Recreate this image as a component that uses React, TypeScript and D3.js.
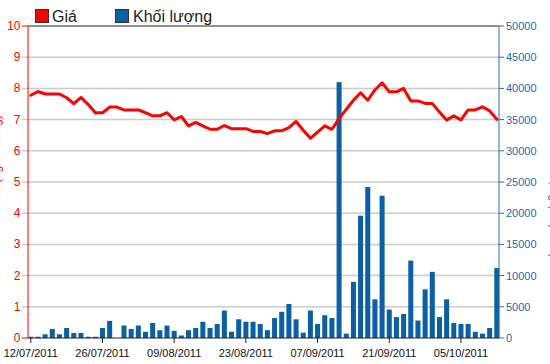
import React from "react";
import * as d3 from "d3";

const dates = [
  "12/07/2011","13/07/2011","14/07/2011","15/07/2011","18/07/2011","19/07/2011","20/07/2011","21/07/2011","22/07/2011","25/07/2011",
  "26/07/2011","27/07/2011","28/07/2011","29/07/2011","01/08/2011","02/08/2011","03/08/2011","04/08/2011","05/08/2011","08/08/2011",
  "09/08/2011","10/08/2011","11/08/2011","12/08/2011","15/08/2011","16/08/2011","17/08/2011","18/08/2011","19/08/2011","22/08/2011",
  "23/08/2011","24/08/2011","25/08/2011","26/08/2011","29/08/2011","30/08/2011","31/08/2011","01/09/2011","05/09/2011","06/09/2011",
  "07/09/2011","08/09/2011","09/09/2011","12/09/2011","13/09/2011","14/09/2011","15/09/2011","16/09/2011","19/09/2011","20/09/2011",
  "21/09/2011","22/09/2011","23/09/2011","26/09/2011","27/09/2011","28/09/2011","29/09/2011","30/09/2011","03/10/2011","04/10/2011",
  "05/10/2011","06/10/2011","07/10/2011","10/10/2011","11/10/2011","12/10/2011"
];

const prices = [
  7.78, 7.9, 7.82, 7.82, 7.82, 7.7, 7.51, 7.71, 7.49, 7.22,
  7.22, 7.4, 7.4, 7.31, 7.31, 7.31, 7.22, 7.12, 7.12, 7.22,
  6.99, 7.1, 6.8, 6.91, 6.8, 6.69, 6.69, 6.81, 6.71, 6.71,
  6.71, 6.62, 6.62, 6.55, 6.64, 6.64, 6.74, 6.94, 6.66, 6.4,
  6.6, 6.8, 6.69, 7.03, 7.33, 7.62, 7.86, 7.62, 7.95, 8.18,
  7.89, 7.89, 8.0, 7.6, 7.6, 7.52, 7.52, 7.24, 6.99, 7.12,
  6.99, 7.31, 7.31, 7.41, 7.28, 7.01
];

const volumes = [
  200, 200, 600, 1450, 600, 1600, 800, 800, 200, 200,
  1600, 2750, 0, 2000, 1450, 2000, 1000, 2400, 1250, 2000,
  1150, 400, 1250, 1600, 2600, 1600, 2250, 4400, 1000, 3000,
  2600, 2600, 2250, 1250, 3200, 4200, 5450, 3000, 850, 4400,
  2250, 3650, 3200, 41000, 700, 9000, 19600, 24200, 6200, 22800,
  4550, 3350, 3850, 12400, 2800, 7800, 10600, 3350, 6200, 2400,
  2250, 2250, 1000, 700, 1600, 11200
];

const priceTicks = [0, 1, 2, 3, 4, 5, 6, 7, 8, 9, 10];
const volumeTicks = [0, 5000, 10000, 15000, 20000, 25000, 30000, 35000, 40000, 45000, 50000];
const dateTickLabels = ["12/07/2011", "26/07/2011", "09/08/2011", "23/08/2011", "07/09/2011", "21/09/2011", "05/10/2011"];

const legendLabels = ["Giá", "Khối lượng"];

export default function App() {
  const W = 550, H = 364;
  const left = 28, right = 499, top = 26, bottom = 338;
  const red = "#ff0000";
  const blue = "#0b5fa5";
  const axisBlue = "#2a6ca4";
  const font = "'Liberation Sans', Arial, sans-serif";

  const x = d3.scaleBand<string>().domain(dates).range([27.2, 500.4]).paddingInner(0.3).paddingOuter(0.15);
  const yP = d3.scaleLinear().domain([0, 10]).range([bottom, top]);
  const yV = d3.scaleLinear().domain([0, 50000]).range([bottom, top]);
  const bw = x.bandwidth();

  const line = d3.line<number>()
    .x((_, i) => (x(dates[i]) as number) + bw / 2)
    .y((d) => yP(d));

  return (
    <svg width={W} height={H} style={{ position: "absolute", left: 0, top: 0, background: "#fff" }} fontFamily={font}>
      {/* gridlines */}
      {priceTicks.filter((t) => t > 0 && t < 10).map((t) => (
        <line key={"g" + t} x1={22} x2={right} y1={yP(t)} y2={yP(t)} stroke="#cccccc" strokeWidth={1.5} />
      ))}
      {/* bars */}
      {volumes.map((v, i) => (
        <rect key={"b" + i} x={x(dates[i])} y={yV(v)} width={bw} height={bottom - yV(v)} fill={blue} />
      ))}
      {/* price line */}
      <path d={line(prices) || ""} fill="none" stroke={red} strokeWidth={3} strokeLinejoin="round" strokeLinecap="round" />
      {/* top border */}
      <line x1={left} x2={right} y1={top} y2={top} stroke="#222" strokeWidth={1} />
      {/* bottom axis */}
      <line x1={left} x2={right} y1={bottom} y2={bottom} stroke="#222" strokeWidth={1.2} />
      {dateTickLabels.map((d) => {
        const cx = (x(d) as number) + bw / 2;
        return (
          <g key={"xt" + d}>
            <line x1={cx} x2={cx} y1={bottom} y2={bottom + 5} stroke="#222" strokeWidth={1} />
            <text x={cx} y={357} textAnchor="middle" fontSize={11} fill="#111">{d}</text>
          </g>
        );
      })}
      {/* left axis */}
      <line x1={left} x2={left} y1={top} y2={bottom} stroke={red} strokeWidth={1} />
      {priceTicks.map((t) => (
        <g key={"lt" + t}>
          {(t === 0 || t === 10) && <line x1={22} x2={left} y1={yP(t)} y2={yP(t)} stroke={red} strokeWidth={1} />}
          <text x={20.5} y={yP(t) + 4} textAnchor="end" fontSize={12} fill={red}>{t}</text>
        </g>
      ))}
      {/* right axis */}
      <line x1={right} x2={right} y1={top} y2={bottom} stroke={axisBlue} strokeWidth={1} />
      {volumeTicks.map((t) => (
        <g key={"rt" + t}>
          <line x1={right} x2={right + 5} y1={yV(t)} y2={yV(t)} stroke={axisBlue} strokeWidth={1} />
          <text x={506} y={yV(t) + 4} fontSize={11} fill="#1f68a6">{t}</text>
        </g>
      ))}
      {/* rotated axis titles, mostly off-canvas as in the reference */}
      <text transform="translate(-0.5,160) rotate(-90)" textAnchor="middle" fontSize={12} fill={red}>Giá (nghìn đồng)</text>
      <text transform="translate(550.5,200) rotate(90)" textAnchor="middle" fontSize={12} fill="#1f68a6">Khối lượng (cổ phiếu)</text>
      {/* legend */}
      <rect x={35.5} y={9.5} width={13} height={13} fill={red} stroke="#333" strokeWidth={1} />
      <text x={52} y={22} fontSize={16} fill="#222">{legendLabels[0]}</text>
      <rect x={115.5} y={9.5} width={13} height={13} fill={blue} stroke="#333" strokeWidth={1} />
      <text x={133} y={22} fontSize={16} fill="#222">{legendLabels[1]}</text>
    </svg>
  );
}
